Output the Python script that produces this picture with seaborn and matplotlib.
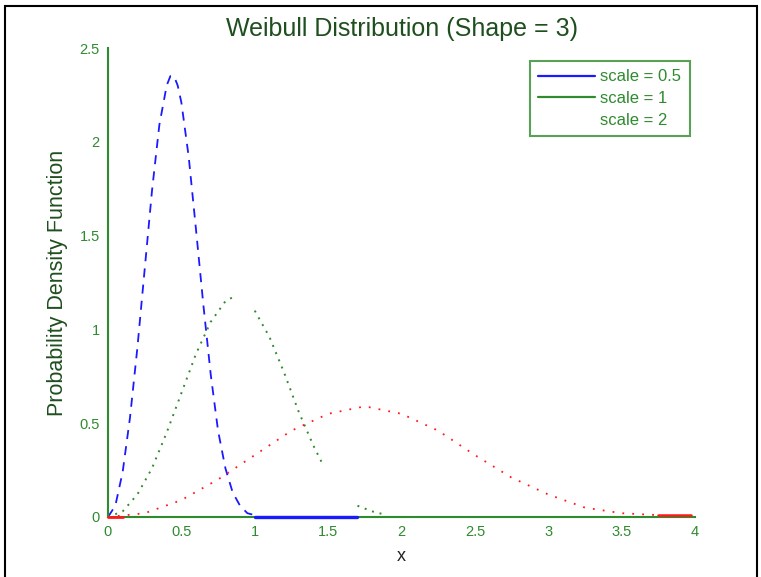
import numpy as np
import pandas as pd
import seaborn as sns
import matplotlib.pyplot as plt
from matplotlib.lines import Line2D
from matplotlib.patches import Rectangle

sns.set_style('white')
plt.rcParams['font.family'] = ['Liberation Sans', 'DejaVu Sans']

# values (Weibull pdf, shape = 3)
blue_x = [0, 0.05, 0.1, 0.15, 0.2, 0.25, 0.3, 0.35, 0.4, 0.425, 0.45, 0.475, 0.5,
          0.55, 0.6, 0.65, 0.7, 0.75, 0.8, 0.85, 0.9, 0.95, 1.0]
blue_y = [0, 0.06, 0.24, 0.53, 0.90, 1.32, 1.74, 2.09, 2.30, 2.35, 2.35, 2.30, 2.21,
          1.92, 1.53, 1.13, 0.76, 0.46, 0.26, 0.13, 0.06, 0.02, 0.01]
blue_tail_x = [1.0, 1.7]
blue_tail_y = [0, 0]

# green is broken into three visible pieces in the reference
green_part = [1] * 10 + [2] * 6 + [3] * 3
green_x = [0, 0.1, 0.2, 0.3, 0.4, 0.5, 0.6, 0.7, 0.8, 0.87,
           1.0, 1.1, 1.2, 1.3, 1.4, 1.47,
           1.7, 1.8, 1.9]
green_y = [0, 0.03, 0.12, 0.26, 0.45, 0.66, 0.87, 1.04, 1.15, 1.18,
           1.10, 0.96, 0.77, 0.56, 0.38, 0.27,
           0.06, 0.03, 0.01]

red_x = [0, 0.25, 0.5, 0.75, 1.0, 1.25, 1.5, 1.75, 2.0, 2.25, 2.5, 2.75,
         3.0, 3.25, 3.5, 3.75]
red_y = [0, 0.02, 0.09, 0.20, 0.33, 0.46, 0.55, 0.59, 0.55, 0.46, 0.33, 0.21,
         0.12, 0.05, 0.02, 0.01]
red_head_x = [0, 0.1]
red_head_y = [0, 0]
red_tail_x = [3.75, 3.97]
red_tail_y = [0.01, 0.01]

labels = ['scale = 0.5', 'scale = 1', 'scale = 2']
x_ticks = [0, 0.5, 1, 1.5, 2, 2.5, 3, 3.5, 4]
y_ticks = [0, 0.5, 1, 1.5, 2, 2.5]

green = '#2e8b2e'
blue = '#1a1aff'
red = '#ff1a1a'

fig = plt.figure(figsize=(7.61, 5.77), dpi=100)
ax = fig.add_axes([0.1419, 0.104, 0.7714, 0.8128])

green_df = pd.DataFrame({'x': green_x, 'y': green_y, 'part': green_part})

sns.lineplot(x=blue_x, y=blue_y, ax=ax, color=blue, lw=1.3,
             linestyle=(0, (5, 4)), sort=False)
sns.lineplot(data=green_df, x='x', y='y', units='part', estimator=None, ax=ax,
             color=green, lw=1.4, linestyle=(0, (1, 3)), sort=False)
sns.lineplot(x=red_x, y=red_y, ax=ax, color=red, lw=1.3,
             linestyle=(0, (1, 4.5)), sort=False)
# solid stubs lying on the x axis
sns.lineplot(x=blue_tail_x, y=blue_tail_y, ax=ax, color=blue, lw=2.4,
             zorder=5, clip_on=False)
sns.lineplot(x=red_head_x, y=red_head_y, ax=ax, color=red, lw=2,
             zorder=5, clip_on=False)
sns.lineplot(x=red_tail_x, y=red_tail_y, ax=ax, color=red, lw=1.8,
             zorder=5, clip_on=False)

ax.set_xlim(0, 4)
ax.set_ylim(0, 2.5)
ax.set_xticks(x_ticks)
ax.set_xticklabels([f'{t:g}' for t in x_ticks])
ax.set_yticks(y_ticks)
ax.set_yticklabels([f'{t:g}' for t in y_ticks])
ax.tick_params(direction='in', length=5, width=1, colors=green, labelsize=10.5,
               pad=6)
for side in ['top', 'right']:
    ax.spines[side].set_visible(False)
for side in ['left', 'bottom']:
    ax.spines[side].set_color(green)
    ax.spines[side].set_linewidth(1.5)
ax.set_facecolor('white')

ax.set_title('Weibull Distribution (Shape = 3)', fontsize=18, color='#1f4f1f',
             pad=9)
ax.set_xlabel('x', fontsize=13, color='#222222', labelpad=6)
ax.set_ylabel('Probability Density Function', fontsize=15.5, color='#1f4f1f',
              labelpad=8)

handles = [Line2D([], [], color=blue, lw=1.6),
           Line2D([], [], color=green, lw=1.6),
           Line2D([], [], color='none', lw=1.6)]
leg = ax.legend(handles, labels, loc='upper right', bbox_to_anchor=(0.991, 0.972),
                fontsize=12, frameon=True, fancybox=False, handlelength=3.4,
                borderpad=0.5, labelspacing=0.4, handletextpad=0.35,
                borderaxespad=0)
leg.get_frame().set_edgecolor(green)
leg.get_frame().set_linewidth(1.5)
for t in leg.get_texts():
    t.set_color(green)

fig.patches.append(Rectangle((5 / 761, -0.02), 752 / 761, 1 - 6 / 577 + 0.02,
                             transform=fig.transFigure, fill=False,
                             edgecolor='black', lw=1.5))

fig.savefig('out.png', dpi=100)
